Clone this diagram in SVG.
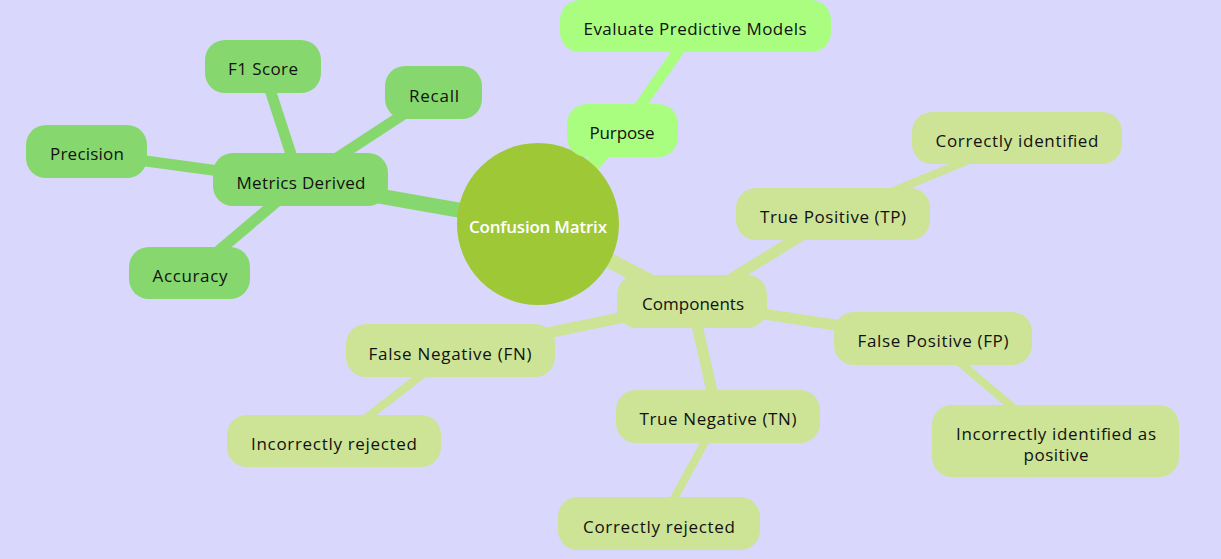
<svg xmlns="http://www.w3.org/2000/svg" width="1221" height="559" viewBox="0 0 1221 559">
<style>
text{font-family:"Open Sans","DejaVu Sans",sans-serif;font-size:17px;fill:#111;text-anchor:middle;dominant-baseline:central}
.s0{fill:#86d86e}.s1{fill:#a9fe80}.s2{fill:#cde496}
.e0{stroke:#86d86e}.e1{stroke:#a9fe80}.e2{stroke:#cde496}
.d1{stroke-width:15}.d2{stroke-width:11}.d3{stroke-width:8}
line{stroke-linecap:butt}
</style>
<rect width="1221" height="559" fill="#d9d7fc"/>
<g id="connectors">
<line class="e0 d1" x1="538" y1="224" x2="300" y2="182"/>
<line class="e0 d2" x1="300" y1="182" x2="263" y2="68"/>
<line class="e0 d2" x1="300" y1="182" x2="433" y2="95"/>
<line class="e0 d2" x1="300" y1="182" x2="87" y2="153"/>
<line class="e0 d2" x1="300" y1="182" x2="190" y2="275"/>
<line class="e1 d1" x1="538" y1="224" x2="622" y2="132"/>
<line class="e1 d2" x1="622" y1="132" x2="695" y2="27"/>
<line class="e2 d1" x1="538" y1="224" x2="692" y2="303"/>
<line class="e2 d2" x1="692" y1="303" x2="833" y2="216"/>
<line class="e2 d2" x1="692" y1="303" x2="933" y2="340"/>
<line class="e2 d2" x1="692" y1="303" x2="718" y2="418"/>
<line class="e2 d2" x1="692" y1="303" x2="450" y2="353"/>
<line class="e2 d3" x1="833" y1="216" x2="1017" y2="140"/>
<line class="e2 d3" x1="933" y1="340" x2="1055" y2="443"/>
<line class="e2 d3" x1="718" y1="418" x2="659" y2="526"/>
<line class="e2 d3" x1="450" y1="353" x2="334" y2="443"/>
</g>
<g id="root"><circle cx="538" cy="224" r="81" fill="#9fc837"/><text x="538" y="226" textLength="138" style="fill:#fff;font-weight:600">Confusion Matrix</text></g>
<g id="metrics"><rect class="s0" x="213" y="153" width="175" height="53" rx="20"/><text x="301" y="182" textLength="129">Metrics Derived</text></g>
<g id="f1"><rect class="s0" x="205" y="40" width="116" height="53" rx="20"/><text x="263" y="68" textLength="70">F1 Score</text></g>
<g id="recall"><rect class="s0" x="385" y="66" width="97" height="53" rx="20"/><text x="434" y="95" textLength="50">Recall</text></g>
<g id="precision"><rect class="s0" x="26" y="125" width="121" height="53" rx="20"/><text x="87" y="153" textLength="74">Precision</text></g>
<g id="accuracy"><rect class="s0" x="129" y="247" width="121" height="52" rx="20"/><text x="190" y="275" textLength="75">Accuracy</text></g>
<g id="purpose"><rect class="s1" x="567" y="104" width="111" height="53" rx="20"/><text x="622" y="132" textLength="65">Purpose</text></g>
<g id="evaluate"><rect class="s1" x="560" y="0" width="271" height="52" rx="20"/><text x="695" y="28" textLength="223">Evaluate Predictive Models</text></g>
<g id="components"><rect class="s2" x="617" y="275" width="150" height="53" rx="20"/><text x="693" y="303" textLength="102">Components</text></g>
<g id="tp"><rect class="s2" x="736" y="188" width="194" height="52" rx="20"/><text x="833" y="216" textLength="146">True Positive (TP)</text></g>
<g id="tp-desc"><rect class="s2" x="912" y="112" width="210" height="52" rx="20"/><text x="1017" y="140" textLength="163">Correctly identified</text></g>
<g id="fp"><rect class="s2" x="834" y="312" width="198" height="53" rx="20"/><text x="933" y="340" textLength="151">False Positive (FP)</text></g>
<g id="fp-desc"><rect class="s2" x="932" y="405" width="247" height="72" rx="20"/><text x="1056" y="433" textLength="200">Incorrectly identified as</text><text x="1056" y="454" textLength="65">positive</text></g>
<g id="tn"><rect class="s2" x="616" y="390" width="204" height="53" rx="20"/><text x="718" y="418" textLength="157">True Negative (TN)</text></g>
<g id="tn-desc"><rect class="s2" x="558" y="497" width="202" height="53" rx="20"/><text x="659" y="526" textLength="152">Correctly rejected</text></g>
<g id="fn"><rect class="s2" x="346" y="324" width="209" height="53" rx="20"/><text x="450" y="353" textLength="163">False Negative (FN)</text></g>
<g id="fn-desc"><rect class="s2" x="227" y="415" width="214" height="52" rx="20"/><text x="334" y="443" textLength="166">Incorrectly rejected</text></g>
</svg>
